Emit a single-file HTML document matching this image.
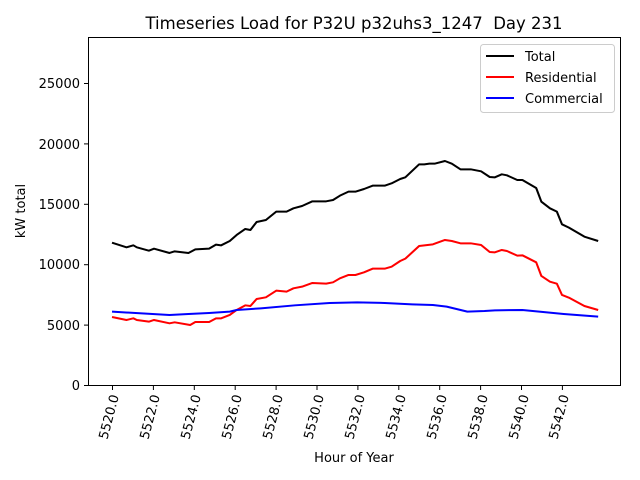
<!DOCTYPE html>
<html><head><style>body{margin:0;background:#fff}svg{display:block}text{font-family:"DejaVu Sans","Liberation Sans",sans-serif;fill:#000}</style></head>
<body>
<svg width="640" height="480" viewBox="0 0 640 480" xmlns="http://www.w3.org/2000/svg">
<rect width="640" height="480" fill="#fff"/>
<text x="354" y="29" font-size="16.5" text-anchor="middle">Timeseries Load for P32U p32uhs3_1247 &#160;Day 231</text>
<g transform="translate(88.6,130) scale(0.3443,0.3333)" fill="none" stroke-width="6" stroke-linejoin="round">
<polyline stroke="#000" points="68,338 110,352 130,346 140,352 175,362 190,356 235,369 250,364 290,369 310,358 350,356 370,344 385,346 410,333 430,315 455,297 470,300 488,276 515,270 545,245 575,245 595,235 620,228 650,214 690,214 710,210 730,197 755,185 775,185 800,177 825,167 860,167 880,160 905,147 920,142 960,103 975,103 990,101 1005,101 1035,93 1055,101 1080,118 1110,118 1140,124 1165,141 1180,142 1200,133 1215,136 1245,150 1260,150 1300,174 1315,215 1340,235 1360,245 1375,283 1395,293 1440,320 1480,333"/>
<polyline stroke="#f00" points="68,561 110,570 130,565 140,570 175,575 190,570 235,580 250,577 295,585 310,576 350,576 370,565 385,565 410,555 430,540 455,526 470,528 488,507 515,502 545,482 575,485 595,475 620,470 650,459 690,461 710,457 730,445 755,435 775,435 800,427 825,416 860,416 880,410 905,393 920,386 960,348 1000,343 1035,330 1055,333 1080,340 1110,340 1140,345 1165,366 1180,367 1200,360 1215,363 1245,377 1260,376 1300,397 1315,438 1340,455 1360,461 1375,495 1395,503 1440,528 1480,540"/>
<polyline stroke="#00f" points="68,545 235,555 290,552 350,549 410,545 430,540 500,535 600,526 700,519 780,517 860,519 940,523 1000,525 1040,530 1100,545 1150,543 1180,541 1260,540 1380,552 1480,560"/>
</g>
<rect x="88.5" y="37.5" width="532" height="348" fill="none" stroke="#000" stroke-width="1"/>
<g font-size="13" text-anchor="end">
<g stroke="#000"><line x1="84" x2="88" y1="385.5" y2="385.5"/><line x1="84" x2="88" y1="325.1" y2="325.1"/><line x1="84" x2="88" y1="264.7" y2="264.7"/><line x1="84" x2="88" y1="204.3" y2="204.3"/><line x1="84" x2="88" y1="143.9" y2="143.9"/><line x1="84" x2="88" y1="83.5" y2="83.5"/></g>
<text x="80" y="390">0</text><text x="80" y="330">5000</text><text x="80" y="269">10000</text><text x="80" y="209">15000</text><text x="80" y="149">20000</text><text x="80" y="88">25000</text>
</g>
<text transform="translate(25,211) rotate(-90)" font-size="13" text-anchor="middle">kW total</text>
<g stroke="#000">
<line x1="112.5" x2="112.5" y1="386" y2="390"/><line x1="153.4" x2="153.4" y1="386" y2="390"/><line x1="194.3" x2="194.3" y1="386" y2="390"/><line x1="235.2" x2="235.2" y1="386" y2="390"/><line x1="276.1" x2="276.1" y1="386" y2="390"/><line x1="317" x2="317" y1="386" y2="390"/><line x1="357.9" x2="357.9" y1="386" y2="390"/><line x1="398.8" x2="398.8" y1="386" y2="390"/><line x1="439.7" x2="439.7" y1="386" y2="390"/><line x1="480.6" x2="480.6" y1="386" y2="390"/><line x1="521.5" x2="521.5" y1="386" y2="390"/><line x1="562.4" x2="562.4" y1="386" y2="390"/>
</g>
<g font-size="13" text-anchor="end">
<text transform="translate(119,396) rotate(-75)">5520.0</text>
<text transform="translate(160,396) rotate(-75)">5522.0</text>
<text transform="translate(201,396) rotate(-75)">5524.0</text>
<text transform="translate(242,396) rotate(-75)">5526.0</text>
<text transform="translate(283,396) rotate(-75)">5528.0</text>
<text transform="translate(324,396) rotate(-75)">5530.0</text>
<text transform="translate(365,396) rotate(-75)">5532.0</text>
<text transform="translate(406,396) rotate(-75)">5534.0</text>
<text transform="translate(447,396) rotate(-75)">5536.0</text>
<text transform="translate(488,396) rotate(-75)">5538.0</text>
<text transform="translate(529,396) rotate(-75)">5540.0</text>
<text transform="translate(569,396) rotate(-75)">5542.0</text>
</g>
<text x="354" y="462" font-size="13" text-anchor="middle">Hour of Year</text>
<rect x="480.5" y="44.5" width="134" height="68" rx="3" fill="#fff" stroke="#ccc"/>
<g stroke-width="2"><line x1="486" x2="514" y1="56" y2="56" stroke="#000"/><line x1="486" x2="514" y1="77" y2="77" stroke="#f00"/><line x1="486" x2="514" y1="98" y2="98" stroke="#00f"/></g>
<g font-size="13"><text x="525" y="61">Total</text><text x="525" y="82">Residential</text><text x="525" y="103">Commercial</text></g>
</svg>
</body></html>
